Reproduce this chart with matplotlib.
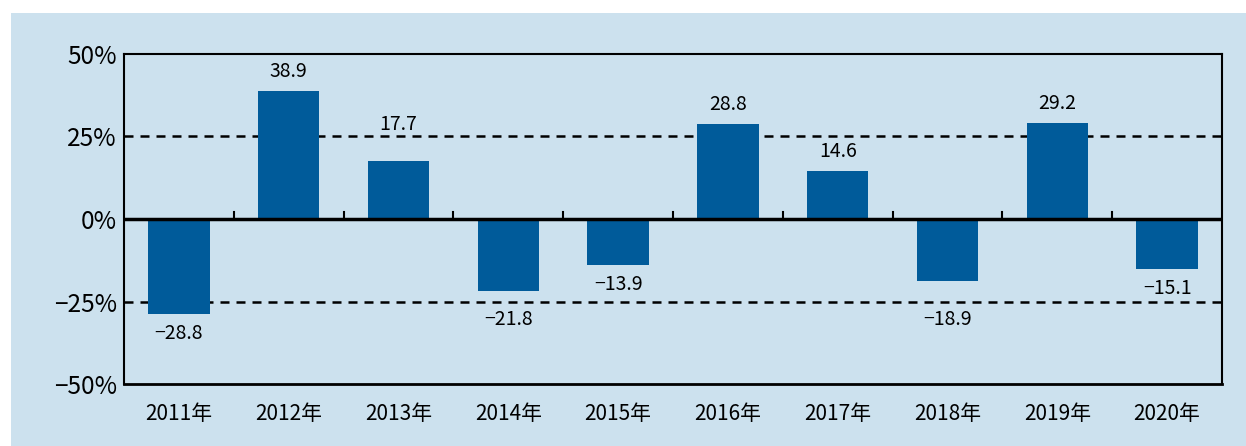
import numpy as np
import matplotlib.pyplot as plt
from matplotlib.patches import Rectangle

# data
years = ["2011年", "2012年", "2013年", "2014年", "2015年",
         "2016年", "2017年", "2018年", "2019年", "2020年"]
changes = [-28.8, 38.9, 17.7, -21.8, -13.9, 28.8, 14.6, -18.9, 29.2, -15.1]
y_ticks = [-50, -25, 0, 25, 50]

plt.rcParams['font.family'] = ['Noto Sans CJK JP', 'DejaVu Sans']
bg = '#cce1ee'
bar_color = '#005b9a'

W, H = 1246, 446
fig = plt.figure(figsize=(W / 100, H / 100), dpi=100)
fig.patch.set_facecolor('white')
# light blue panel, leaving a thin white strip on top and left
fig.patches.append(Rectangle((11 / W, 0), 1 - 11 / W, (H - 13) / H,
                             transform=fig.transFigure, facecolor=bg,
                             edgecolor='none', zorder=-5))

ax = fig.add_axes([124 / W, (H - 384) / H, (1222 - 124) / W, (384 - 54) / H])
ax.set_facecolor(bg)

x = np.arange(len(years))
ax.bar(x, changes, width=0.56, color=bar_color, zorder=2)

ax.set_xlim(-0.5, len(years) - 0.5)
ax.set_ylim(-50, 50)

ax.axhline(0, color='black', linewidth=2.5, zorder=3)
for lvl in (25, -25):
    ax.axhline(lvl, color='black', linewidth=1.8, linestyle=(0, (3.6, 2.8)), zorder=1)

# small upward ticks on the zero line between categories
for b in np.arange(0.5, len(years) - 0.5, 1):
    ax.plot([b, b], [0, 2.2], color='black', linewidth=1.5, zorder=3)

# value labels, nudged so they don't sit across the dashed lines
txt_h = 6.0  # approx label height in data units
for xi, v in zip(x, changes):
    txt = f"{v:.1f}".replace('-', '\u2212')
    if v >= 0:
        y0 = v + 2.6
        if y0 < 25 < y0 + txt_h:
            y0 = 25.6
        ax.text(xi, y0, txt, ha='center', va='bottom', fontsize=14)
    else:
        y0 = v - 2.8
        if y0 - txt_h < -25 < y0:
            y0 = -27.2
        ax.text(xi, y0, txt, ha='center', va='top', fontsize=14)

ax.set_yticks(y_ticks)
ax.set_yticklabels([f"{t}%".replace('-', '\u2212') for t in y_ticks], fontsize=17.5)
ax.set_xticks(x)
ax.set_xticklabels(years, fontsize=15)
ax.tick_params(axis='y', length=0, pad=5)
ax.tick_params(axis='x', length=0, pad=14)

for s in ax.spines.values():
    s.set_color('black')
    s.set_linewidth(1.5)
ax.spines['bottom'].set_linewidth(2)

fig.savefig('out.png', dpi=100, facecolor=fig.get_facecolor())
